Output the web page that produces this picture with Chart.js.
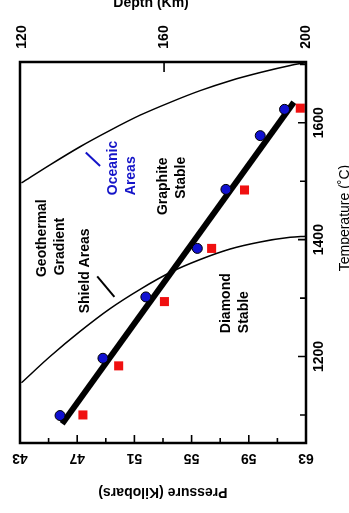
<!DOCTYPE html>
<html>
<head>
<meta charset="utf-8">
<script src="https://cdn.jsdelivr.net/npm/chart.js@4.4.1/dist/chart.umd.min.js"></script>
<style>
  html, body { margin: 0; padding: 0; background: #fff; }
  #wrap { width: 349px; height: 513px; }
</style>
</head>
<body>
<div id="wrap"><canvas id="ChartDiamond"></canvas></div>
<script>
// experimental points: pressure (kbar) vs temperature (C)
const bluePressure = [45.8, 48.8, 51.8, 55.4, 57.4, 59.8, 61.5];
const blueTemp = [1099, 1197, 1302, 1385, 1486, 1578, 1623];
const redPressure = [47.4, 49.9, 53.1, 56.4, 58.7, 62.6];
const redTemp = [1100, 1184, 1294, 1385, 1485, 1625];

// graphite/diamond boundary (fitted line)
const boundaryPressure = [45.95, 62.15];
const boundaryTemp = [1085, 1635];

// geothermal gradients
const oceanicPressure = [43.1, 45.1, 47.2, 49.3, 51.4, 53.5, 55.6, 57.7, 59.8, 61.9, 63.0];
const oceanicTemp = [1497, 1528, 1559, 1587, 1613, 1635, 1655, 1672, 1686, 1698, 1703];
const shieldPressure = [43.1, 45.1, 47.2, 49.3, 51.4, 53.6, 55.6, 57.7, 59.8, 61.9, 63.0];
const shieldTemp = [1155, 1200, 1243, 1282, 1315, 1345, 1366, 1384, 1396, 1404, 1406];

// leader marks next to the curve labels
const oceanicLeaderP = [47.6, 48.6];
const oceanicLeaderT = [1549, 1526];
const shieldLeaderP = [48.4, 49.6];
const shieldLeaderT = [1337, 1302];

// axis ticks and labels
const pressureTicks = [45, 47, 49, 51, 53, 55, 57, 59, 61];
const pressureLabels = [43, 47, 51, 55, 59, 63];
const tempTicks = [1100, 1200, 1300, 1400, 1500, 1600, 1700];
const tempLabels = [1200, 1400, 1600];
const depthTicks = [160];
const depthLabels = [120, 160, 200];

const toPts = (xs, ys) => xs.map((x, i) => ({ x: x, y: ys[i] }));

const FONT = '"Liberation Sans", Arial, Helvetica, sans-serif';

// region labels, each line starts at (p, t) and reads bottom to top
const regionLabels = [
    { text: "Geothermal", p: 44.55, t: 1336, color: "#000" },
    { text: "Gradient", p: 45.8, t: 1339, color: "#000" },
    { text: "Shield Areas", p: 47.55, t: 1274, color: "#000" },
    { text: "Oceanic", p: 49.5, t: 1476, color: "#1414c8" },
    { text: "Areas", p: 50.75, t: 1476, color: "#1414c8" },
    { text: "Graphite", p: 53.0, t: 1442, color: "#000" },
    { text: "Stable", p: 54.25, t: 1470, color: "#000" },
    { text: "Diamond", p: 57.45, t: 1240, color: "#000" },
    { text: "Stable", p: 58.7, t: 1240, color: "#000" },
];

const drawAxes = {
    id: "drawAxes",
    afterDatasetsDraw(chart) {
        const { ctx, chartArea: a, scales } = chart;
        const xs = scales.x, ys = scales.y, ds = scales.depth;
        ctx.save();
        ctx.strokeStyle = "#000";
        ctx.fillStyle = "#000";

        // frame
        ctx.lineWidth = 2.5;
        ctx.strokeRect(a.left, a.top, a.right - a.left, a.bottom - a.top);

        ctx.lineWidth = 1.6;
        ctx.beginPath();
        pressureTicks.forEach((p) => {
            const x = xs.getPixelForValue(p);
            const len = pressureLabels.includes(p) ? 8 : 5;
            ctx.moveTo(x, a.bottom);
            ctx.lineTo(x, a.bottom - len);
        });
        tempTicks.forEach((t) => {
            const y = ys.getPixelForValue(t);
            const len = tempLabels.includes(t) ? 8 : 6;
            ctx.moveTo(a.right, y);
            ctx.lineTo(a.right - len, y);
        });
        depthTicks.forEach((d) => {
            const x = ds.getPixelForValue(d);
            ctx.moveTo(x, a.top);
            ctx.lineTo(x, a.top + 10);
        });
        ctx.stroke();

        ctx.textAlign = "center";
        ctx.textBaseline = "middle";

        // pressure labels (upside down)
        ctx.font = "bold 14px " + FONT;
        pressureLabels.forEach((p) => {
            ctx.save();
            ctx.translate(xs.getPixelForValue(p), a.bottom + 15);
            ctx.rotate(Math.PI);
            ctx.fillText(String(p), 0, 0);
            ctx.restore();
        });
        ctx.save();
        ctx.translate(163, a.bottom + 49);
        ctx.rotate(Math.PI);
        ctx.font = "bold 14px " + FONT;
        ctx.fillText("Pressure (Kilobars)", 0, 0);
        ctx.restore();

        // temperature labels
        ctx.font = "bold 14px " + FONT;
        tempLabels.forEach((t) => {
            ctx.save();
            ctx.translate(a.right + 13, ys.getPixelForValue(t));
            ctx.rotate(-Math.PI / 2);
            ctx.fillText(String(t), 0, 0);
            ctx.restore();
        });
        ctx.save();
        ctx.translate(a.right + 39, ys.getPixelForValue(1437));
        ctx.rotate(-Math.PI / 2);
        ctx.font = "14px " + FONT;
        ctx.fillText("Temperature (\u02DAC)", 0, 0);
        ctx.restore();

        // depth labels
        ctx.font = "bold 14px " + FONT;
        depthLabels.forEach((d) => {
            ctx.save();
            ctx.translate(ds.getPixelForValue(d), a.top - 25);
            ctx.rotate(-Math.PI / 2);
            ctx.fillText(String(d), 0, 0);
            ctx.restore();
        });
        ctx.textBaseline = "alphabetic";
        ctx.fillText("Depth (Km)", ds.getPixelForValue(160) - 13, 7);

        // region labels
        ctx.font = "bold 14px " + FONT;
        ctx.textAlign = "left";
        ctx.textBaseline = "middle";
        regionLabels.forEach((lab) => {
            ctx.save();
            ctx.fillStyle = lab.color;
            ctx.translate(xs.getPixelForValue(lab.p), ys.getPixelForValue(lab.t));
            ctx.rotate(-Math.PI / 2);
            ctx.fillText(lab.text, 0, 0);
            ctx.restore();
        });
        ctx.restore();
    },
};

document.addEventListener("DOMContentLoaded", function () {
    const ctx = document.getElementById("ChartDiamond");
    new Chart(ctx, {
        type: "scatter",
        data: {
            datasets: [
                {
                    label: "Series A",
                    data: toPts(bluePressure, blueTemp),
                    pointStyle: "circle",
                    pointRadius: 5,
                    backgroundColor: "#1010d0",
                    borderColor: "#000",
                    borderWidth: 1,
                },
                {
                    label: "Series B",
                    data: toPts(redPressure, redTemp),
                    pointStyle: "rect",
                    pointRadius: 6.4,
                    backgroundColor: "#f01010",
                    borderColor: "#f01010",
                    borderWidth: 0,
                },
                {
                    label: "Boundary",
                    data: toPts(boundaryPressure, boundaryTemp),
                    showLine: true,
                    borderColor: "#000",
                    borderWidth: 6,
                    pointRadius: 0,
                },
                {
                    label: "Oceanic",
                    data: toPts(oceanicPressure, oceanicTemp),
                    showLine: true,
                    cubicInterpolationMode: "monotone",
                    borderColor: "#000",
                    borderWidth: 1.5,
                    pointRadius: 0,
                },
                {
                    label: "Shield",
                    data: toPts(shieldPressure, shieldTemp),
                    showLine: true,
                    cubicInterpolationMode: "monotone",
                    borderColor: "#000",
                    borderWidth: 1.5,
                    pointRadius: 0,
                },
                {
                    label: "Oceanic leader",
                    data: toPts(oceanicLeaderP, oceanicLeaderT),
                    showLine: true,
                    borderColor: "#1414c8",
                    borderWidth: 2,
                    pointRadius: 0,
                },
                {
                    label: "Shield leader",
                    data: toPts(shieldLeaderP, shieldLeaderT),
                    showLine: true,
                    borderColor: "#000",
                    borderWidth: 2,
                    pointRadius: 0,
                },
            ],
        },
        options: {
            responsive: true,
            maintainAspectRatio: false,
            animation: false,
            layout: { padding: { left: 20, right: 43, top: 62, bottom: 70 } },
            scales: {
                x: { type: "linear", position: "bottom", min: 43, max: 63, display: false },
                depth: { type: "linear", position: "top", axis: "x", min: 119.4, max: 200, display: false },
                y: { type: "linear", position: "right", min: 1052, max: 1704, display: false },
            },
            plugins: {
                legend: { display: false },
                tooltip: { enabled: false },
            },
        },
        plugins: [drawAxes],
    });
});
</script>
</body>
</html>
